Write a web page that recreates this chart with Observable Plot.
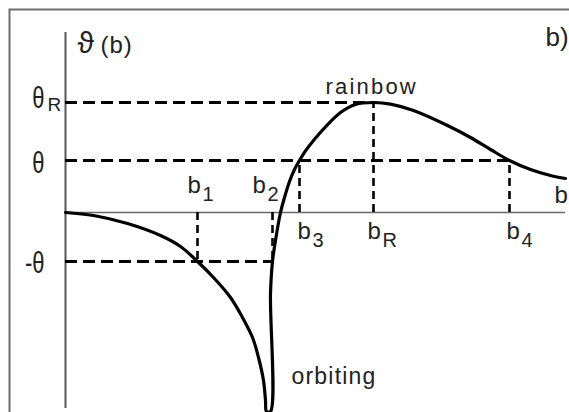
<!DOCTYPE html>
<html>
<head>
<meta charset="utf-8">
<script src="https://cdn.jsdelivr.net/npm/d3@7"></script>
<script src="https://cdn.jsdelivr.net/npm/@observablehq/plot@0.6"></script>
<style>
  html, body { margin: 0; padding: 0; background: #fff; overflow: hidden; }
</style>
</head>
<body>
<div id="chart"></div>
<script>
// Deflection function ϑ(b) versus impact parameter b (arbitrary units).
// Left branch: attractive part diving towards orbiting; right branch: rises to the rainbow maximum.
const curveB = [0, 0.56, 1.24, 1.9, 2.3, 2.64, 2.96, 3.3, 3.54, 3.74, 3.86, 3.96, 4.0, 4.02,
                4.1, 4.1, 4.14, 4.2, 4.3, 4.38, 4.48, 4.58, 4.68, 4.8, 4.96, 5.2, 5.5, 5.8, 6.16,
                6.5, 6.96, 7.64, 8.1, 8.5, 8.88, 9.3, 9.7, 10];
const curveTheta = [0, -1.5, -5.5, -11.5, -17, -24.5, -32.5, -42.5, -52.5, -62.5, -72.5, -84, -94, -99.5,
                    -99.5, -40.5, -24.5, -14, 0, 7.5, 15.5, 21.5, 26, 30.8, 36, 42.8, 50, 54, 55,
                    54.2, 51, 43.5, 37.5, 31.5, 26, 21.5, 18.5, 17];

// Marked impact parameters and the deflection reached at each
const bSubscripts = ["1", "2", "3", "R", "4"];
const bValues = [2.64, 4.14, 4.68, 6.16, 8.88];
const bDeflection = [-24.5, -24.5, 26, 55, 26];

// Marked deflection levels: symbol, subscript, value, and how far the guide runs in b
const levelSymbols = ["θ", "θ", "-θ"];
const levelSubscripts = ["R", "", ""];
const levelValues = [55, 26, -24.5];
const levelReach = [6.16, 8.88, 4.14];

// Extents of the drawn axes
const bAxisExtent = [0, 10];
const thetaAxisExtent = [-98, 90];

const curve = curveB.map((b, i) => ({b, theta: curveTheta[i]}));
const bMarks = bValues.map((b, i) => ({b, theta: bDeflection[i], sub: bSubscripts[i]}));
const levels = levelValues.map((v, i) => ({
  value: v, reach: levelReach[i], symbol: levelSymbols[i], sub: levelSubscripts[i]
}));
const peak = curve.reduce((a, c) => (c.theta > a.theta ? c : a));
const trough = curve.reduce((a, c) => (c.theta < a.theta ? c : a));

const font = "'Liberation Sans', Arial, 'DejaVu Sans', sans-serif";
const ink = "#222";

// label placement relative to each b mark (dx, dy of the letter baseline)
const bLabelShift = [[-10, -20], [-20, -20], [-2, 26], [-6, 26], [-3, 26]];
// baseline offsets of the level symbols relative to their guide
const levelLabelShift = [5, 12, 11];

const bLabelMarks = bMarks.flatMap((m, i) => [
  Plot.text([m], {
    x: "b", y: () => 0, text: () => "b",
    dx: bLabelShift[i][0], dy: bLabelShift[i][1],
    textAnchor: "start", lineAnchor: "bottom",
    fontSize: 24, fontFamily: font, fill: ink
  }),
  Plot.text([m], {
    x: "b", y: () => 0, text: "sub",
    dx: bLabelShift[i][0] + 15, dy: bLabelShift[i][1] + 8,
    textAnchor: "start", lineAnchor: "bottom",
    fontSize: 20, fontFamily: font, fill: ink
  })
]);

const levelLabelMarks = levels.flatMap((l, i) => [
  Plot.text([l], {
    x: () => 0, y: "value", text: "symbol",
    dx: -21, dy: levelLabelShift[i],
    textAnchor: "end", lineAnchor: "bottom",
    fontSize: 22, fontFamily: font, fill: ink
  }),
  Plot.text([l], {
    x: () => 0, y: "value", text: "sub",
    dx: -18, dy: 8,
    textAnchor: "start", lineAnchor: "bottom",
    fontSize: 19, fontFamily: font, fill: ink
  })
]);

const svg = Plot.plot({
  width: 569,
  height: 412,
  marginLeft: 9,
  marginTop: 9,
  marginRight: -10,
  marginBottom: -10,
  x: {domain: [0, 10], range: [65, 565], axis: null},
  y: {domain: [-100, 106], range: [412, 0], axis: null},
  style: {background: "#fff"},
  marks: [
    Plot.frame({stroke: "#6e6e6e", strokeWidth: 2}),
    // axes
    Plot.ruleY([0], {x1: bAxisExtent[0], x2: bAxisExtent[1], stroke: "#6a6a6a", strokeWidth: 1.4}),
    Plot.ruleX([0], {y1: thetaAxisExtent[0], y2: thetaAxisExtent[1], stroke: "#555", strokeWidth: 2}),
    // dashed guides
    Plot.ruleY(levels, {y: "value", x1: () => 0, x2: "reach", stroke: "#000", strokeWidth: 3, strokeDasharray: "12,6"}),
    Plot.ruleX(bMarks, {x: "b", y1: () => 0, y2: "theta", stroke: "#000", strokeWidth: 2.6, strokeDasharray: "8,5"}),
    // deflection function
    Plot.line(curve, {x: "b", y: "theta", stroke: "#000", strokeWidth: 3.2, curve: "catmull-rom", strokeLinejoin: "round"}),
    // labels
    ...bLabelMarks,
    ...levelLabelMarks,
    Plot.text([{b: 0, t: thetaAxisExtent[1]}], {
      x: "b", y: "t", text: () => "ϑ", dx: 12, dy: 20,
      textAnchor: "start", lineAnchor: "bottom", fontSize: 30, fontFamily: font, fill: ink
    }),
    Plot.text([{b: 0, t: thetaAxisExtent[1]}], {
      x: "b", y: "t", text: () => "(b)", dx: 35, dy: 20,
      textAnchor: "start", lineAnchor: "bottom", fontSize: 24, fontFamily: font, fill: ink
    }),
    Plot.text([{b: bAxisExtent[1], t: thetaAxisExtent[1]}], {
      x: "b", y: "t", text: () => "b)", dx: -20, dy: 13,
      textAnchor: "start", lineAnchor: "bottom", fontSize: 26, fontFamily: font, fill: ink
    }),
    Plot.text([{b: bAxisExtent[1], t: 0}], {
      x: "b", y: "t", text: () => "b", dx: -11, dy: -10,
      textAnchor: "start", lineAnchor: "bottom", fontSize: 24, fontFamily: font, fill: ink
    }),
    Plot.text([peak], {
      x: "b", y: "theta", text: () => "rainbow", dx: -48, dy: -9,
      textAnchor: "start", lineAnchor: "bottom", fontSize: 22, fontFamily: font, fill: ink
    }),
    Plot.text([trough], {
      x: "b", y: "theta", text: () => "orbiting", dx: 25, dy: -28,
      textAnchor: "start", lineAnchor: "bottom", fontSize: 23, fontFamily: font, fill: ink
    })
  ]
});

// tall, narrow theta glyphs and the spaced lettering of the annotations
d3.select(svg).selectAll("text").each(function () {
  const t = this.textContent;
  const sel = d3.select(this);
  if (t === "θ" || t === "-θ") {
    const tr = sel.attr("transform") || "";
    sel.attr("transform", tr + " scale(1,1.35)");
  } else if (t === "rainbow") {
    sel.attr("letter-spacing", "2.2px");
  } else if (t === "orbiting") {
    sel.attr("letter-spacing", "1.2px");
  } else if (t === "(b)") {
    sel.attr("letter-spacing", "1px");
  }
});

document.getElementById("chart").appendChild(svg);
</script>
</body>
</html>
